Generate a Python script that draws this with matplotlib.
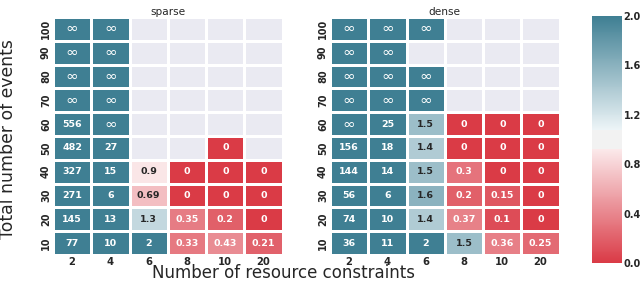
import colorsys
import numpy as np
import matplotlib
matplotlib.use("Agg")
import matplotlib.pyplot as plt
from matplotlib.colors import LinearSegmentedColormap
import seaborn as sns

inf = np.inf
nan = np.nan

constraints = [2, 4, 6, 8, 10, 20]
events = [100, 90, 80, 70, 60, 50, 40, 30, 20, 10]

# rows: events 100 -> 10, cols: constraints
sparse = [
    [inf, inf, nan, nan, nan, nan],
    [inf, inf, nan, nan, nan, nan],
    [inf, inf, nan, nan, nan, nan],
    [inf, inf, nan, nan, nan, nan],
    [556, inf, nan, nan, nan, nan],
    [482, 27, nan, nan, 0, nan],
    [327, 15, 0.9, 0, 0, 0],
    [271, 6, 0.69, 0, 0, 0],
    [145, 13, 1.3, 0.35, 0.2, 0],
    [77, 10, 2, 0.33, 0.43, 0.21],
]
dense = [
    [inf, inf, inf, nan, nan, nan],
    [inf, inf, nan, nan, nan, nan],
    [inf, inf, inf, nan, nan, nan],
    [inf, inf, inf, nan, nan, nan],
    [inf, 25, 1.5, 0, 0, 0],
    [156, 18, 1.4, 0, 0, 0],
    [144, 14, 1.5, 0.3, 0, 0],
    [56, 6, 1.6, 0.2, 0.15, 0],
    [74, 10, 1.4, 0.37, 0.1, 0],
    [36, 11, 2, 1.5, 0.36, 0.25],
]

sns.set_style("darkgrid")
plt.rcParams['font.family'] = ['DejaVu Sans']

# old-style seaborn diverging palette (pale tinted ends, grey band in the middle)
ends = sns.diverging_palette(10, 220, n=2)
red, blue = ends[0], ends[-1]


def pale(c):
    h, l, s = colorsys.rgb_to_hls(*c)
    return colorsys.hls_to_rgb(h, 0.95, s)


sep = 20 / 256.0
lo, hi = 0.5 - sep / 2, 0.5 + sep / 2
cmap = LinearSegmentedColormap.from_list("div", [
    (0.0, red), (lo, pale(red)), (lo + 0.001, (.95, .95, .95)),
    (hi - 0.001, (.95, .95, .95)), (hi, pale(blue)), (1.0, blue)])


def labels(a):
    out = []
    for row in a:
        r = []
        for v in row:
            if np.isnan(v):
                r.append("")
            elif np.isinf(v):
                r.append("\u221e")
            else:
                r.append("%g" % v)
        out.append(r)
    return np.array(out)


fig = plt.figure(figsize=(6.4, 2.82), dpi=100)
ax1 = fig.add_axes([0.0828, 0.0957, 0.359, 0.844])
ax2 = fig.add_axes([0.5156, 0.0957, 0.359, 0.844])
cax = fig.add_axes([0.925, 0.067, 0.047, 0.876])

for ax, data, title, cb in [(ax1, sparse, "sparse", False), (ax2, dense, "dense", True)]:
    a = np.array(data, dtype=float)
    vals = np.where(np.isinf(a), 1e6, a)
    sns.heatmap(vals, ax=ax, cmap=cmap, vmin=0, vmax=2, annot=labels(a), fmt="",
                annot_kws={"fontsize": 6.8, "fontweight": "bold"},
                linewidths=0.8, linecolor="white",
                cbar=cb, cbar_ax=cax if cb else None,
                xticklabels=constraints, yticklabels=events)
    ax.grid(False)
    ax.set_facecolor("#EAEAF2")
    for t in ax.texts:
        if t.get_text() == "\u221e":
            t.set_fontsize(11)
            t.set_fontweight("normal")
    ax.set_title(title, fontsize=7.6, pad=1.5)
    ax.tick_params(axis="both", length=0, pad=1.5)
    for t in ax.get_xticklabels():
        t.set_fontsize(7.2)
        t.set_fontweight("bold")
        t.set_rotation(0)
    for t in ax.get_yticklabels():
        t.set_fontsize(7)
        t.set_fontweight("bold")
        t.set_rotation(90)
        t.set_va("center")

cax.set_yticks([0.0, 0.4, 0.8, 1.2, 1.6, 2.0])
cax.set_yticklabels(["0.0", "0.4", "0.8", "1.2", "1.6", "2.0"])
cax.tick_params(length=0, labelsize=7, pad=1)
for t in cax.get_yticklabels():
    t.set_fontweight("bold")

fig.text(0.443, 0.014, "Number of resource constraints", fontsize=12, ha="center", va="baseline")
fig.text(0.0125, 0.507, "Total number of events", fontsize=12.4, rotation=90, ha="center", va="center")

fig.savefig("out.png", dpi=100)
